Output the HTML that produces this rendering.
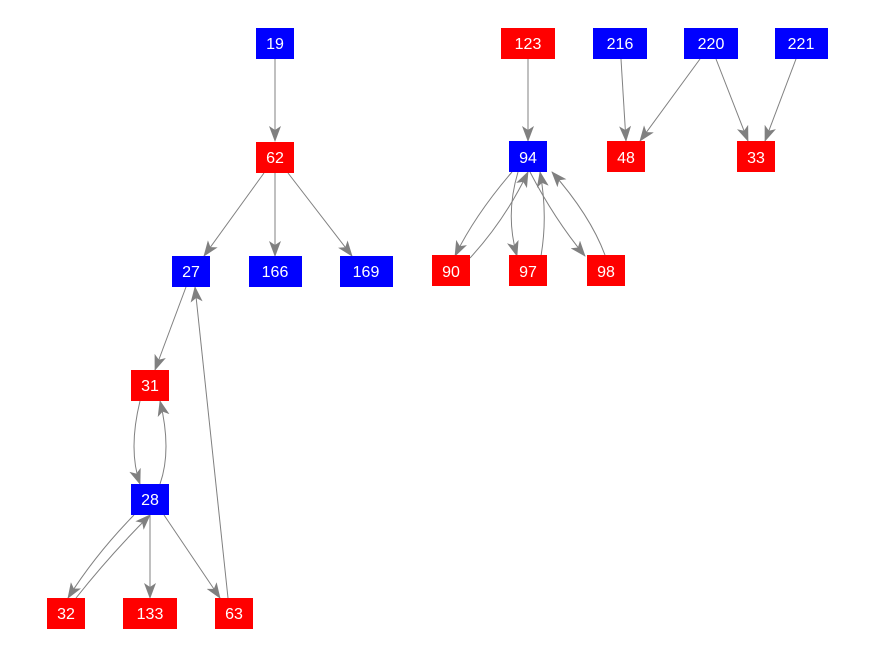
<!DOCTYPE html>
<html><head><style>body{margin:0;background:#fff}</style></head><body>
<svg width="876" height="656" xmlns="http://www.w3.org/2000/svg" font-family="Liberation Sans, sans-serif" font-size="16">
<defs><marker id="a" markerWidth="16" markerHeight="12" refX="15" refY="6" orient="auto" markerUnits="userSpaceOnUse"><path d="M0,0 L16,6 L0,12 L4,6 z" fill="#808080"/></marker></defs>
<g stroke="#808080" stroke-width="1" fill="none" marker-end="url(#a)">
<path d="M275,59 L275,141"/>
<path d="M264,173 L204,256"/>
<path d="M275,173 L275,256"/>
<path d="M288,173 L352,256"/>
<path d="M186,287 L155,370"/>
<path d="M140,401 Q128,450 140,484"/>
<path d="M160,484 Q172,450 160,401"/>
<path d="M228,598 L195,287"/>
<path d="M134,515 Q95,555 68,598"/>
<path d="M76,598 Q110,555 150,515"/>
<path d="M150,515 L150,598"/>
<path d="M164,515 L220,598"/>
<path d="M528,59 L528,141"/>
<path d="M512,172 Q475,215 455,256"/>
<path d="M470,258 Q505,220 528,172"/>
<path d="M518,172 Q505,215 517,256"/>
<path d="M541,256 Q548,215 540,172"/>
<path d="M530,172 Q555,220 585,256"/>
<path d="M605,255 Q590,215 552,172"/>
<path d="M621,59 L626,141"/>
<path d="M700,59 L640,141"/>
<path d="M716,59 L748,141"/>
<path d="M796,59 L765,141"/>
</g>
<g fill="#fff" text-anchor="middle">
<rect x="256" y="28" width="38" height="31" fill="#0000ff"/><text x="275" y="49">19</text>
<rect x="256" y="142" width="38" height="31" fill="#ff0000"/><text x="275" y="163">62</text>
<rect x="172" y="256" width="38" height="31" fill="#0000ff"/><text x="191" y="277">27</text>
<rect x="249" y="256" width="53" height="31" fill="#0000ff"/><text x="275" y="277">166</text>
<rect x="340" y="256" width="53" height="31" fill="#0000ff"/><text x="366" y="277">169</text>
<rect x="131" y="370" width="38" height="31" fill="#ff0000"/><text x="150" y="391">31</text>
<rect x="131" y="484" width="38" height="31" fill="#0000ff"/><text x="150" y="505">28</text>
<rect x="47" y="598" width="38" height="31" fill="#ff0000"/><text x="66" y="619">32</text>
<rect x="123" y="598" width="54" height="31" fill="#ff0000"/><text x="150" y="619">133</text>
<rect x="215" y="598" width="38" height="31" fill="#ff0000"/><text x="234" y="619">63</text>
<rect x="501" y="28" width="54" height="31" fill="#ff0000"/><text x="528" y="49">123</text>
<rect x="509" y="141" width="38" height="31" fill="#0000ff"/><text x="528" y="163">94</text>
<rect x="432" y="255" width="38" height="31" fill="#ff0000"/><text x="451" y="277">90</text>
<rect x="509" y="255" width="38" height="31" fill="#ff0000"/><text x="528" y="277">97</text>
<rect x="587" y="255" width="38" height="31" fill="#ff0000"/><text x="606" y="277">98</text>
<rect x="593" y="28" width="54" height="31" fill="#0000ff"/><text x="620" y="49">216</text>
<rect x="684" y="28" width="54" height="31" fill="#0000ff"/><text x="711" y="49">220</text>
<rect x="775" y="28" width="53" height="31" fill="#0000ff"/><text x="801" y="49">221</text>
<rect x="607" y="141" width="38" height="31" fill="#ff0000"/><text x="626" y="163">48</text>
<rect x="737" y="141" width="38" height="31" fill="#ff0000"/><text x="756" y="163">33</text>
</g>
</svg>
</body></html>
